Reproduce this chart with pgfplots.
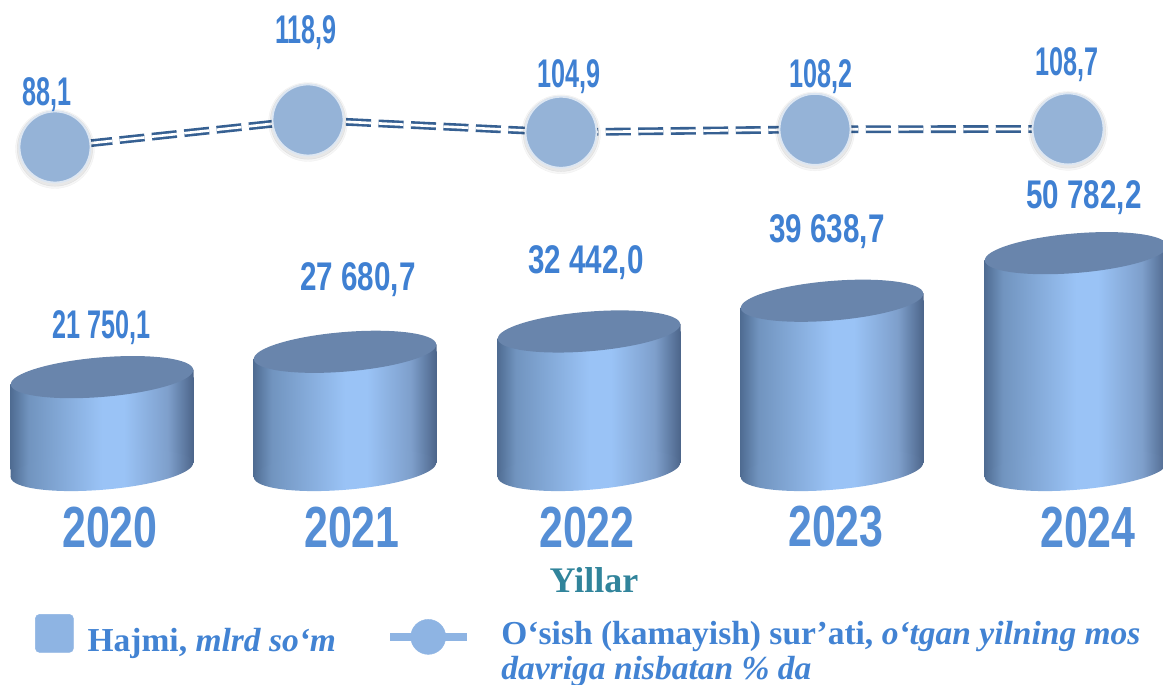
\documentclass[border=0pt]{standalone}
\usepackage{pgfplots}
\usepackage{pgfplotstable}
\pgfplotsset{compat=1.18}
\usepackage{fontspec}
\setmainfont{Liberation Serif}
\newfontfamily\lab[FakeStretch=0.63]{Liberation Sans}
\newfontfamily\yr[FakeStretch=0.74]{Liberation Sans}
\definecolor{labc}{HTML}{3F80D2}
\definecolor{yrc}{HTML}{558ED5}
\definecolor{legc}{HTML}{4283D3}
\definecolor{ylc}{HTML}{31849B}
\definecolor{keyc}{HTML}{8EB4E3}
\definecolor{circc}{HTML}{95B3D7}
\definecolor{circe}{HTML}{DCE6F2}
\definecolor{linec}{HTML}{366092}
\definecolor{topc}{HTML}{6985AC}
\definecolor{cA}{HTML}{4F6C92}
\definecolor{cB}{HTML}{7194BF}
\definecolor{cC}{HTML}{9AC3F6}
\definecolor{cD}{HTML}{7E9FCB}
\definecolor{cE}{HTML}{4C658A}
\pgfdeclarehorizontalshading{cyl}{100bp}{color(0bp)=(cA); color(25bp)=(cA); color(30bp)=(cB); color(50bp)=(cC); color(56bp)=(cC); color(68bp)=(cD); color(75bp)=(cE); color(100bp)=(cE)}
\pgfplotstableread{
x vol
102 21750.1
345 27680.7
589 32442.0
832 39638.7
1076 50782.2
}\voltable
\pgfplotstableread{
x base
102 0
345 0
589 0
832 0
1076 0
}\basetable
\pgfplotstableread{
x rate
55 88.1
308 118.9
561 104.9
815 108.2
1068 108.7
}\ratetable
\newcommand{\cylell}{(91.2pt,7.5pt) .. controls (90.32pt,18.38pt) and (48.77pt,23.84pt) .. (-1.6pt,19.7pt)
 .. controls (-51.97pt,15.56pt) and (-92.08pt,3.38pt) .. (-91.2pt,-7.5pt)
 .. controls (-90.32pt,-18.38pt) and (-48.77pt,-23.84pt) .. (1.6pt,-19.7pt)
 .. controls (51.97pt,-15.56pt) and (92.08pt,-3.38pt) .. (91.2pt,7.5pt) -- cycle}
\pgfdeclareplotmark{cyltop}{
  \fill[white] (-93pt,-8pt) -- (-93pt,1pt) -- (-80pt,1pt) -- cycle;
  \path[shade,shading=cyl] (-91.5pt,-7.5pt) -- (91.5pt,7.5pt) -- (91.5pt,-12pt) -- (-91.5pt,-12pt) -- cycle;
  \fill[topc] \cylell;
}
\pgfdeclareplotmark{cylbase}{
  \fill[white] (93pt,8pt) -- (93pt,-1pt) -- (80pt,-1pt) -- cycle;
  \path[shade,shading=cyl] (-91.5pt,-7.5pt) -- (91.5pt,7.5pt) -- (91.5pt,12pt) -- (-91.5pt,12pt) -- cycle;
  \path[shade,shading=cyl] \cylell;
}
\pgfdeclareplotmark{ratecirc}{
  \fill[black,opacity=.035] (0pt,-2pt) circle (39.5pt);
  \fill[black,opacity=.06] (0pt,-1.5pt) circle (37.8pt);
  \filldraw[fill=circc,draw=circe,line width=1.8pt] (0pt,0pt) circle (35.5pt);
}
\newcommand{\T}[4][labc]{\node[inner sep=0,text=#1] at (#2pt,{(685-#3)*1pt}) {#4};}
\pgfplotsset{cylbar/.style={ybar,bar width=183,bar shift=0pt,draw=none,shade,shading=cyl,forget plot}}
\begin{document}
\begin{tikzpicture}
\begin{scope}
\clip (0,0) rectangle (1163pt,685pt);
\begin{axis}[
  at={(0,0)},anchor=south west,scale only axis,width=1163pt,height=685pt,
  xmin=0,xmax=1163,ymin=-50351,ymax=110070,
  axis x line=middle,axis y line=none,
  axis line style={draw=none},tick style={draw=none},major tick length=0pt,
  ytick=\empty,
  xtick={110,352,587,836,1088},
  xticklabels={2020,2021,2022,\raisebox{3pt}{2023},2024},
  xticklabel style={anchor=center,yshift=-58pt,text=yrc,font=\yr\bfseries\fontsize{58}{58}\selectfont},
  clip=false,
  legend columns=2,
  legend cell align=left,
  legend style={at={(35/1163,1-614/685)},anchor=north west,draw=none,fill=none,inner sep=0pt,
    text=legc,font=\bfseries\fontsize{33.5}{35}\selectfont,
    /tikz/every even column/.style={column sep=12pt},
    /tikz/every odd column/.style={column sep=0pt}},
]
\addplot[cylbar] coordinates {(102,21750.1)};
\addplot[cylbar] coordinates {(345,27680.7)};
\addplot[cylbar] coordinates {(589,32442.0)};
\addplot[cylbar] coordinates {(832,39638.7)};
\addplot[cylbar] coordinates {(1076,50782.2)};
\addlegendimage{legend image code/.code={\fill[keyc,rounded corners=4pt] (0pt,-12pt) rectangle (38pt,26pt);}}
\addlegendentry{\hspace{12pt}Hajmi, \textit{mlrd so‘m}\hspace{40pt}\null}
\addlegendimage{legend image code/.code={
  \fill[keyc] (0pt,0pt) rectangle (76pt,7pt);
  \fill[keyc] (38pt,3.5pt) circle (17.5pt);}}
\addlegendentry{\hspace{33pt}\raisebox{13.5pt}{\parbox[t]{655pt}{O‘sish (kamayish) sur’ati, \textit{o‘tgan yilning mos}\\\textit{davriga nisbatan \% da}}}}
\addplot[only marks,mark=cylbase,draw=none,forget plot] table[x=x,y=base] {\basetable};
\addplot[only marks,mark=cyltop,draw=none,forget plot] table[x=x,y=vol] {\voltable};
\end{axis}
\begin{axis}[
  at={(0,0)},anchor=south west,scale only axis,width=1163pt,height=685pt,
  xmin=0,xmax=1163,ymin=-525.36,ymax=255.72,
  hide axis,clip=false,
]
\addplot[no marks,draw=linec,line width=2.6pt,double=white,double distance=2.6pt,
  dash pattern=on 25pt off 7.5pt] table[x=x,y=rate] {\ratetable};
\addplot[only marks,mark=ratecirc] table[x=x,y=rate] {\ratetable};
\end{axis}
\end{scope}
\T{47}{95}{\lab\bfseries\fontsize{40}{40}\selectfont 88,1}
\T{306}{33}{\lab\bfseries\fontsize{40}{40}\selectfont 118,9}
\T{569}{77}{\lab\bfseries\fontsize{40}{40}\selectfont 104,9}
\T{821}{77}{\lab\bfseries\fontsize{40}{40}\selectfont 108,2}
\T{1067}{65}{\lab\bfseries\fontsize{40}{40}\selectfont 108,7}
\T{102}{328}{\lab\bfseries\fontsize{40}{40}\selectfont 21 750,1}
\T{358}{280}{\yr\bfseries\fontsize{40}{40}\selectfont 27 680,7}
\T{586}{263}{\yr\bfseries\fontsize{40}{40}\selectfont 32 442,0}
\T{827}{232}{\yr\bfseries\fontsize{40}{40}\selectfont 39 638,7}
\T{1084}{198}{\yr\bfseries\fontsize{40}{40}\selectfont 50 782,2}
\T[ylc]{594}{580}{\bfseries\fontsize{36}{36}\selectfont Yillar}
\pgfresetboundingbox
\useasboundingbox (0,0) rectangle (1163pt,685pt);
\end{tikzpicture}
\end{document}
